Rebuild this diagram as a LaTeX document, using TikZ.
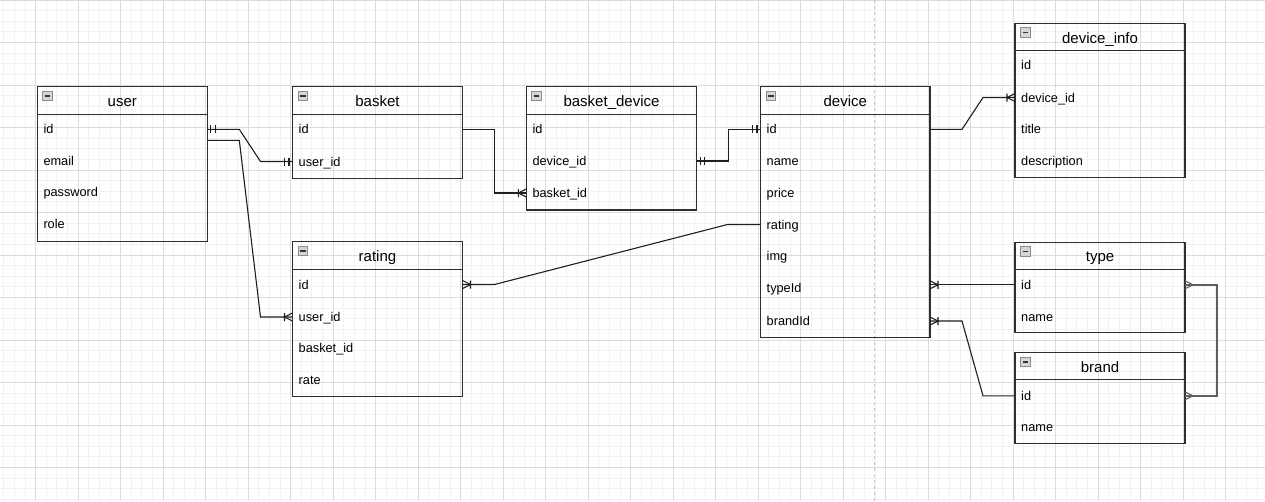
\documentclass[tikz,border=0pt]{standalone}
\usepackage{fontspec}
\setmainfont{Liberation Sans}
\usetikzlibrary{calc}

\definecolor{gridminor}{HTML}{F2F2F2}
\definecolor{gridmajor}{HTML}{DCDCDC}
\definecolor{pagebreak}{HTML}{C4C4C4}
\definecolor{edgecol}{HTML}{2E2E2E}
\definecolor{linkcol}{HTML}{1E1E1E}
\definecolor{selfcol}{HTML}{5E5E5E}
\definecolor{iconfill}{HTML}{D6D6D6}
\definecolor{iconedge}{HTML}{8C8C8C}

\tikzset{
  tblbox/.style={draw=edgecol, line width=1.2pt, inner sep=0pt, outer sep=0pt, anchor=north west},
  tblline/.style={draw=edgecol, line width=1.2pt},
  titletext/.style={inner sep=0pt, font=\fontsize{15}{15}\selectfont, text height=12pt, text depth=0pt},
  rowtext/.style={inner sep=0pt, anchor=west, font=\fontsize{12.75}{13}\selectfont, text height=9pt, text depth=0pt},
  link/.style={draw=linkcol, line width=1.1pt},
  selflink/.style={draw=selfcol, line width=1.4pt},
  mandone/.pic={\draw[link] (-3.5,-4) -- (-3.5,4) (-8,-4) -- (-8,4);},
  mandmany/.pic={\draw[link] (0,-4) -- (-8,0) -- (0,4) (-8,-4) -- (-8,4);},
  crowmany/.pic={\draw[selflink, line width=1.1pt] (0,-4) -- (-8,0) -- (0,4);},
}

% #1 name, #2 left, #3 top, #4 width, #5 height, #6 header height, #7 title
\newcommand\ertable[7]{%
  \node[tblbox, minimum width=#4, minimum height=#5] (#1) at (#2,#3) {};
  \draw[tblline] ($(#1.north west)+(0,#6)$) -- ($(#1.north east)+(0,#6)$);
  \draw[draw=iconedge, line width=0.9pt, fill=iconfill]
    ($(#1.north west)+(5.5,4.5)$) rectangle ++(9.5,9.5);
  \draw[draw=black!80, line width=1.4pt] ($(#1.north west)+(7.5,9.25)$) -- ++(5.5,0);
  \node[titletext] (#1-title) at ($(#1.north)+(0,#6/2)$) {#7};
}
% #1 table, #2 key, #3 row centre y, #4 text
\newcommand\errow[4]{%
  \node[rowtext] (#1-#2) at ($(#1.west |- 0,#3)+(6,0)$) {#4};
}

\begin{document}
\begin{tikzpicture}[x=1pt, y=-1pt]
  \useasboundingbox (0,0) rectangle (1265,501);

  % drawing grid
  \foreach \i in {0,...,119} \draw[gridminor, line width=0.9pt] (3.8+10.625*\i,0) -- ++(0,501);
  \foreach \i in {0,...,47} \draw[gridminor, line width=0.9pt] (0,10.625*\i) -- ++(1265,0);
  \foreach \i in {0,...,30} \draw[gridmajor, line width=0.9pt] (-6.8+42.5*\i,0) -- ++(0,501);
  \foreach \i in {0,...,11} \draw[gridmajor, line width=0.9pt] (0,42.5*\i) -- ++(1265,0);
  \draw[pagebreak, line width=1pt, dash pattern=on 3pt off 3pt] (874,0) -- (874,501);

  % tables
  \ertable{user}{37.3}{86.7}{170}{155}{27.5}{user}
  \errow{user}{id}{129.3}{id}
  \errow{user}{email}{160.7}{email}
  \errow{user}{password}{192.3}{password}
  \errow{user}{role}{224}{role}

  \ertable{basket}{292.5}{86.7}{170}{91.6}{27.5}{basket}
  \errow{basket}{id}{129.3}{id}
  \errow{basket}{userid}{161.5}{user\_id}

  \ertable{bd}{526.3}{86.7}{170.4}{123.3}{27.5}{basket\_device}
  \errow{bd}{id}{129.3}{id}
  \errow{bd}{deviceid}{161}{device\_id}
  \errow{bd}{basketid}{193}{basket\_id}

  \ertable{device}{760.5}{86.7}{169.5}{250.5}{27.5}{device}
  \errow{device}{id}{129.3}{id}
  \errow{device}{name}{160.5}{name}
  \errow{device}{price}{192.5}{price}
  \errow{device}{rating}{224.5}{rating}
  \errow{device}{img}{256}{img}
  \errow{device}{typeid}{287.5}{typeId}
  \errow{device}{brandid}{321}{brandId}

  \ertable{info}{1015}{23.3}{170}{154}{27.5}{device\_info}
  \errow{info}{id}{65}{id}
  \errow{info}{deviceid}{97.5}{device\_id}
  \errow{info}{title}{129}{title}
  \errow{info}{description}{160.5}{description}

  \ertable{rating}{292.5}{241.7}{170}{154.6}{27.5}{rating}
  \errow{rating}{id}{284.5}{id}
  \errow{rating}{userid}{317}{user\_id}
  \errow{rating}{basketid}{348}{basket\_id}
  \errow{rating}{rate}{380}{rate}

  \ertable{type}{1015}{242.3}{170}{90.4}{27}{type}
  \errow{type}{id}{284.8}{id}
  \errow{type}{name}{317}{name}

  \ertable{brand}{1015}{352.7}{170}{90.6}{26.6}{brand}
  \errow{brand}{id}{395.8}{id}
  \errow{brand}{name}{427}{name}

  % relations
  \draw[link] (user.east |- user-id.west) -- ++(32,0)
    -- ($(basket.west |- basket-userid.west)+(-32,0)$) -- (basket.west |- basket-userid.west);
  \pic[rotate=180] at (user.east |- user-id.west) {mandone};
  \pic at (basket.west |- basket-userid.west) {mandone};

  \draw[link] ($(user.east |- user-id.west)+(0,11)$) -- ++(32,0)
    -- ($(rating.west |- rating-userid.west)+(-32,0)$) -- (rating.west |- rating-userid.west);
  \pic at (rating.west |- rating-userid.west) {mandmany};

  \draw[link] (basket.east |- basket-id.west) -- ++(32,0) |- (bd.west |- bd-basketid.west);
  \pic at (bd.west |- bd-basketid.west) {mandmany};

  \draw[link] (bd.east |- bd-deviceid.west) -- ++(31.5,0) |- (device.west |- device-id.west);
  \pic[rotate=180] at (bd.east |- bd-deviceid.west) {mandone};
  \pic at (device.west |- device-id.west) {mandone};

  \draw[link] (device.east |- device-id.west) -- ++(32,0)
    -- ($(info.west |- info-deviceid.west)+(-32,0)$) -- (info.west |- info-deviceid.west);
  \pic at (info.west |- info-deviceid.west) {mandmany};

  \draw[link] (device.west |- device-rating.west) -- ++(-33,0)
    -- ($(rating.east |- rating-id.west)+(32,0)$) -- (rating.east |- rating-id.west);
  \pic[rotate=180] at (rating.east |- rating-id.west) {mandmany};

  \draw[link] (type.west |- type-id.west) -- (device.east |- type-id.west);
  \pic[rotate=180] at (device.east |- type-id.west) {mandmany};

  \draw[link] (brand.west |- brand-id.west) -- ++(-32,0)
    -- ($(device.east |- device-brandid.west)+(32,0)$) -- (device.east |- device-brandid.west);
  \pic[rotate=180] at (device.east |- device-brandid.west) {mandmany};

  \draw[selflink] (type.east |- type-id.west) -- ++(32,0) |- (brand.east |- brand-id.west);
  \pic[rotate=180] at (type.east |- type-id.west) {crowmany};
  \pic[rotate=180] at (brand.east |- brand-id.west) {crowmany};
\end{tikzpicture}
\end{document}
